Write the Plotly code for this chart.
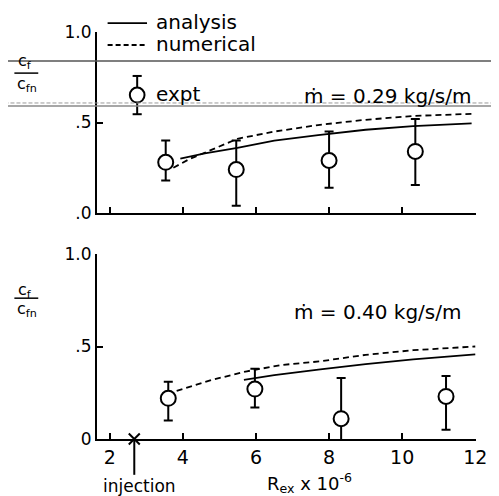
import plotly.graph_objects as go

# ---------------- data ----------------
# top panel: mdot = 0.29 kg/s/m
top_expt_x = [3.53, 5.46, 8.0, 10.36]
top_expt_y = [0.28, 0.24, 0.29, 0.34]
top_expt_hi = [0.40, 0.40, 0.45, 0.52]
top_expt_lo = [0.18, 0.04, 0.14, 0.155]

top_analysis_x = [3.93, 4.6, 5.49, 6.5, 7.7, 9.0, 10.3, 11.9]
top_analysis_y = [0.30, 0.33, 0.36, 0.40, 0.43, 0.46, 0.48, 0.495]

top_numerical_x = [3.74, 4.2, 4.68, 5.49, 6.5, 7.7, 9.0, 10.3, 11.9]
top_numerical_y = [0.25, 0.30, 0.34, 0.41, 0.45, 0.486, 0.515, 0.536, 0.548]

# bottom panel: mdot = 0.40 kg/s/m
bot_expt_x = [3.6, 5.97, 8.33, 11.2]
bot_expt_y = [0.22, 0.27, 0.11, 0.23]
bot_expt_hi = [0.31, 0.38, 0.33, 0.34]
bot_expt_lo = [0.10, 0.17, -0.05, 0.05]

bot_analysis_x = [5.67, 6.5, 7.76, 9.0, 10.3, 12.0]
bot_analysis_y = [0.32, 0.345, 0.376, 0.405, 0.43, 0.457]

bot_numerical_x = [3.83, 4.8, 5.75, 6.7, 7.76, 9.0, 10.3, 12.0]
bot_numerical_y = [0.26, 0.32, 0.366, 0.40, 0.42, 0.455, 0.48, 0.50]

injection_x = [2.67]
injection_y = [0.0]

x_ticks = [2, 4, 6, 8, 10, 12]
x_ticklabels = ["2", "4", "6", "8", "10", "12"]
y_ticks = [0, 0.5, 1.0]
top_y_ticklabels = [".0", ".5", "1.0"]
bot_y_ticklabels = ["0", ".5", "1.0"]

# ---------------- figure ----------------
FONT = "DejaVu Sans, Liberation Sans, Arial, sans-serif"
INK = "#000000"

fig = go.Figure()


def expt_trace(xs, ys, hi, lo, xa, ya):
    plus = [h - y for h, y in zip(hi, ys)]
    minus = [y - l for l, y in zip(lo, ys)]
    return go.Scatter(
        x=xs, y=ys, mode="markers", xaxis=xa, yaxis=ya, showlegend=False,
        marker=dict(symbol="circle", size=15, color="white",
                    line=dict(color=INK, width=2)),
        error_y=dict(type="data", symmetric=False, array=plus, arrayminus=minus,
                     color=INK, thickness=2, width=4.5),
    )


# top panel
fig.add_trace(go.Scatter(x=top_numerical_x, y=top_numerical_y, mode="lines",
                         xaxis="x", yaxis="y", showlegend=False,
                         line=dict(color=INK, width=1.8, dash="6px,4px")))
fig.add_trace(go.Scatter(x=top_analysis_x, y=top_analysis_y, mode="lines",
                         xaxis="x", yaxis="y", showlegend=False,
                         line=dict(color=INK, width=1.8)))
fig.add_trace(expt_trace(top_expt_x, top_expt_y, top_expt_hi, top_expt_lo, "x", "y"))

# bottom panel
fig.add_trace(go.Scatter(x=bot_numerical_x, y=bot_numerical_y, mode="lines",
                         xaxis="x2", yaxis="y2", showlegend=False,
                         line=dict(color=INK, width=1.8, dash="6px,4px")))
fig.add_trace(go.Scatter(x=bot_analysis_x, y=bot_analysis_y, mode="lines",
                         xaxis="x2", yaxis="y2", showlegend=False,
                         line=dict(color=INK, width=1.8)))
fig.add_trace(expt_trace(bot_expt_x, bot_expt_y, bot_expt_hi, bot_expt_lo, "x2", "y2"))
fig.add_trace(go.Scatter(x=injection_x, y=injection_y, mode="markers",
                         xaxis="x2", yaxis="y2", showlegend=False, cliponaxis=False,
                         marker=dict(symbol="x-thin", size=11,
                                     line=dict(color=INK, width=2))))

axis_common = dict(
    showline=True, linecolor=INK, linewidth=2, showgrid=False, zeroline=False,
    ticks="inside", ticklen=6, tickwidth=2, tickcolor=INK,
)
yfont = dict(family=FONT, size=17, color=INK)
xfont = dict(family=FONT, size=19, color=INK)

# the page body adds an 8px margin, so the figure is 8px smaller in each direction
fig.update_layout(
    width=491, height=488,
    margin=dict(l=89, r=16, t=24, b=57),
    paper_bgcolor="white", plot_bgcolor="white",
    font=dict(family=FONT, color=INK),
    xaxis=dict(axis_common, domain=[0, 1], range=[1.65, 12.02], anchor="y",
               tickvals=x_ticks, showticklabels=False),
    yaxis=dict(axis_common, domain=[0.5553, 1.0], range=[0, 1.0], anchor="x",
               tickvals=y_ticks, ticktext=top_y_ticklabels, tickfont=yfont),
    xaxis2=dict(axis_common, domain=[0, 1], range=[1.65, 12.02], anchor="y2",
                tickvals=x_ticks, ticktext=x_ticklabels, tickfont=xfont),
    yaxis2=dict(axis_common, domain=[0.0, 0.4545], range=[0, 1.0], anchor="x2",
                tickvals=y_ticks, ticktext=bot_y_ticklabels, tickfont=yfont),
)

shapes = []
annotations = []

# legend (drawn in the top panel area, paper coordinates)
shapes.append(dict(type="line", xref="paper", yref="paper", x0=0.028, x1=0.132,
                   y0=1.022, y1=1.022, line=dict(color=INK, width=1.8)))
shapes.append(dict(type="line", xref="paper", yref="paper", x0=0.028, x1=0.132,
                   y0=0.968, y1=0.968, line=dict(color=INK, width=1.8, dash="5px,3px")))
# expt legend glyph: error bar + caps + circle
shapes.append(dict(type="line", xref="paper", yref="paper", x0=0.106, x1=0.106,
                   y0=0.798, y1=0.892, line=dict(color=INK, width=2)))
for yy in (0.798, 0.892):
    shapes.append(dict(type="line", xref="paper", yref="paper", x0=0.094, x1=0.118,
                       y0=yy, y1=yy, line=dict(color=INK, width=2)))
shapes.append(dict(type="circle", xref="paper", yref="paper",
                   x0=0.106 - 0.0194, x1=0.106 + 0.0194,
                   y0=0.845 - 0.0184, y1=0.845 + 0.0184,
                   fillcolor="white", line=dict(color=INK, width=2)))
for txt, yy in (("analysis", 1.024), ("numerical", 0.970), ("expt", 0.847)):
    annotations.append(dict(text=txt, xref="paper", yref="paper", x=0.150, y=yy,
                            xanchor="left", yanchor="middle", showarrow=False,
                            font=dict(family=FONT, size=20, color=INK)))

# mass-flow labels
annotations.append(dict(text="ṁ = 0.29 kg/s/m", xref="paper", yref="paper",
                        x=0.767, y=0.843, xanchor="center", yanchor="middle",
                        showarrow=False, font=dict(family=FONT, size=20, color=INK)))
annotations.append(dict(text="ṁ = 0.40 kg/s/m", xref="paper", yref="paper",
                        x=0.741, y=0.312, xanchor="center", yanchor="middle",
                        showarrow=False, font=dict(family=FONT, size=20, color=INK)))

# y-axis fraction labels c_f / c_fn
for (yt, yl, yb) in ((0.928, 0.899, 0.872), (0.365, 0.346, 0.317)):
    annotations.append(dict(text="c<sub>f</sub>", xref="paper", yref="paper",
                            x=-0.190, y=yt, xanchor="center", yanchor="middle",
                            showarrow=False, font=dict(family=FONT, size=16, color=INK)))
    annotations.append(dict(text="c<sub>fn</sub>", xref="paper", yref="paper",
                            x=-0.185, y=yb, xanchor="center", yanchor="middle",
                            showarrow=False, font=dict(family=FONT, size=16, color=INK)))
    shapes.append(dict(type="line", xref="paper", yref="paper", x0=-0.218, x1=-0.155,
                       y0=yl, y1=yl, line=dict(color=INK, width=1.5)))

# x-axis title
annotations.append(dict(text="R<sub>ex</sub> x 10<sup>-6</sup>", xref="paper", yref="paper",
                        x=0.56, y=-0.108, xanchor="center", yanchor="middle",
                        showarrow=False, font=dict(family=FONT, size=18, color=INK)))

# injection pointer
shapes.append(dict(type="line", xref="x2", yref="paper", x0=injection_x[0], x1=injection_x[0],
                   y0=0.0, y1=-0.088, line=dict(color=INK, width=2)))
annotations.append(dict(text="injection", xref="x2", yref="paper", x=injection_x[0] + 0.15,
                        y=-0.115, xanchor="center", yanchor="middle", showarrow=False,
                        font=dict(family=FONT, size=17, color=INK)))

# scan artefact lines crossing the page
shapes.append(dict(type="line", xref="paper", yref="paper", x0=-0.26, x1=1.05,
                   y0=0.929, y1=0.929, layer="above", line=dict(color="#555555", width=1.5)))
shapes.append(dict(type="line", xref="paper", yref="paper", x0=-0.26, x1=1.05,
                   y0=0.8256, y1=0.8256, layer="above",
                   line=dict(color="#9a9a9a", width=1, dash="4px,2px")))
shapes.append(dict(type="line", xref="paper", yref="paper", x0=-0.26, x1=1.05,
                   y0=0.818, y1=0.818, layer="above", line=dict(color="#8a8a8a", width=1.5)))

fig.update_layout(shapes=shapes, annotations=annotations)

fig.write_html("out.html")
